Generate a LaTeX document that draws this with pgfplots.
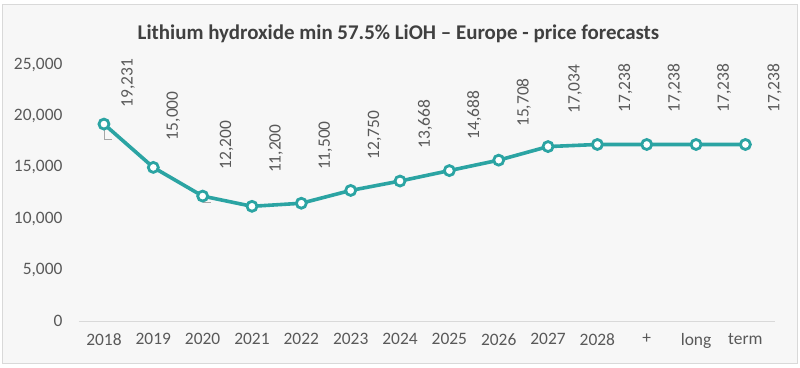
\documentclass[border=0pt]{standalone}
\usepackage{fontspec}
\setmainfont{Carlito}
\usepackage{pgfplots}
\usepackage{pgfplotstable}
\pgfplotsset{compat=1.18}
\definecolor{teal1}{HTML}{2BA4A3}
\definecolor{txt}{HTML}{595959}
\definecolor{ttl}{HTML}{404040}
\definecolor{bg}{HTML}{F7F7F7}
\definecolor{bord}{HTML}{D9D9D9}
\definecolor{axl}{HTML}{D9D9D9}
\definecolor{lead}{HTML}{A6A6A6}
\pgfplotstableread{
x y dx dy
0 19231 24 15
1 15000 20 26
2 12200 24 25
3 11200 24 32
4 11500 24 32
5 12750 24 30
6 13668 25 31
7 14688 25 30
8 15708 25 32
9 17034 27 32
10 17238 28 31
11 17238 28 31
12 17238 28 31
13 17238 29 31
}\prices
\begin{document}
\begin{tikzpicture}[x=1bp,y=1bp]
\path[use as bounding box] (-79,-46) rectangle (721,321);
\filldraw[fill=bg, draw=bord, line width=1bp] (-76,-42) rectangle (718,316);
\node[font=\fontsize{21}{25}\selectfont\bfseries, text=ttl] at (319.5,287) {Lithium hydroxide min 57.5\% LiOH – Europe - price forecasts};
\begin{axis}[
  at={(0,0)}, anchor=south west,
  scale only axis,
  width=696bp, height=256bp,
  xmin=-0.506, xmax=13.6,
  ymin=0, ymax=25000,
  axis lines*=left,
  x axis line style={draw=axl, line width=1bp, -},
  y axis line style={draw=none},
  xtick={0,...,13},
  xticklabels={2018,2019,2020,2021,2022,2023,2024,2025,2026,2027,2028,+,long,term},
  ytick={0,5000,10000,15000,20000,25000},
  scaled y ticks=false,
  major tick length=0pt,
  ticklabel style={font=\fontsize{17.5}{21}\selectfont, text=txt},
  /pgf/number format/assume math mode=true,
  /pgf/number format/1000 sep={,},
  xticklabel style={yshift=-9bp},
  yticklabel style={xshift=-13bp},
  clip=false,
]
\draw[lead, line width=0.8bp] ([shift={(0bp,-2bp)}]axis cs:0,19231) -- ([shift={(0bp,-15bp)}]axis cs:0,19231) -- ([shift={(8bp,-15bp)}]axis cs:0,19231);
\draw[lead, line width=0.8bp] ([shift={(1bp,-1bp)}]axis cs:2,12200) -- ([shift={(1bp,-6bp)}]axis cs:2,12200) -- ([shift={(8bp,-6bp)}]axis cs:2,12200);
\addplot[teal1, line width=3.6bp, mark=*, mark size=5bp,
  mark options={fill=white, draw=teal1, line width=2.8bp},
  nodes near coords,
  visualization depends on={\thisrow{dx} \as \dx},
  visualization depends on={\thisrow{dy} \as \dy},
  nodes near coords style={/pgf/number format/.cd, fixed, precision=0, 1000 sep={,}},
  every node near coord/.style={font=\fontsize{17.5}{21}\selectfont, text=txt, inner sep=0pt, anchor=west, xshift=\dx bp, yshift=\dy bp, rotate=90},
] table[x=x, y=y] {\prices};
\end{axis}
\end{tikzpicture}
\end{document}
